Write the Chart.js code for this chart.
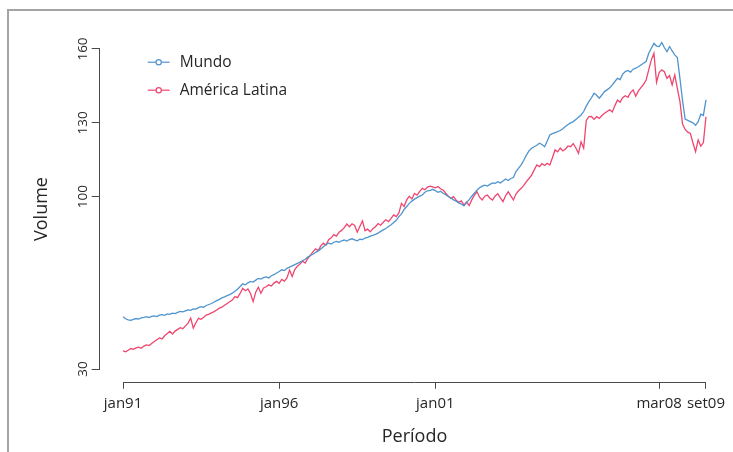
<!DOCTYPE html>
<html>
<head>
<meta charset="utf-8">
<title>Volume — Mundo e América Latina</title>
<script src="https://cdn.jsdelivr.net/npm/chart.js@4.4.1/dist/chart.umd.min.js"></script>
<style>
  html, body { margin: 0; padding: 0; background: #fff; }
  #wrap { position: relative; width: 733px; height: 452px; overflow: hidden; }
  #frame { position: absolute; left: 7px; top: 9px; right: -4px; bottom: -4px;
           border-top: 2px solid #a4a4a4; border-left: 2px solid #a4a4a4; }
  #c { position: absolute; left: 0; top: 0; }
</style>
</head>
<body>
<div id="wrap">
  <div id="frame"></div>
  <canvas id="c" width="733" height="452"></canvas>
</div>
<script>
// Monthly index, jan/1991 (0) to set/2009 (224)
const seriesNames = ['Mundo', 'América Latina'];

const mundo = [
  // 1991
  51.2, 50.4, 50.0, 49.8, 50.2, 50.5, 50.3, 50.8, 51.0, 51.3, 50.9, 51.4,
  // 1992
  51.6, 51.3, 51.9, 52.1, 51.8, 52.4, 52.2, 52.7, 52.5, 53.0, 53.4, 53.2,
  // 1993
  53.6, 54.0, 53.8, 54.4, 54.3, 54.9, 55.3, 55.1, 55.8, 56.2, 56.6, 57.2,
  // 1994
  57.8, 58.3, 58.9, 59.3, 59.8, 60.2, 60.8, 61.6, 62.4, 63.5, 64.6, 64.2,
  // 1995
  65.0, 65.6, 65.3, 66.1, 66.8, 66.5, 67.1, 67.4, 67.0, 67.9, 68.3, 69.0,
  // 1996
  69.6, 70.3, 70.0, 70.9, 71.4, 71.9, 72.4, 72.9, 73.4, 74.0, 74.6, 75.5,
  // 1997
  76.1, 76.6, 77.4, 78.0, 78.8, 79.7, 80.6, 81.1, 80.8, 81.5, 81.8, 81.5,
  // 1998
  82.1, 82.4, 82.0, 82.6, 82.9, 82.5, 82.1, 82.7, 82.6, 83.2, 83.5, 84.0,
  // 1999
  84.3, 84.7, 85.2, 85.9, 86.5, 87.1, 87.9, 88.6, 89.5, 90.4, 91.9, 93.0,
  // 2000
  94.8, 96.0, 97.3, 98.2, 99.0, 99.6, 100.2, 100.7, 101.8, 102.4, 102.6, 103.0,
  // 2001
  102.5, 101.8, 102.2, 101.4, 100.8, 100.1, 99.5, 98.7, 98.2, 97.5, 97.0, 96.3,
  // 2002
  97.6, 98.8, 100.2, 101.4, 102.6, 103.6, 104.3, 104.7, 104.3, 105.0, 105.6, 105.4,
  // 2003
  106.1, 105.6, 106.4, 107.2, 106.6, 107.4, 107.8, 110.2, 111.6, 112.9, 114.8, 116.9,
  // 2004
  118.6, 119.7, 120.3, 120.9, 121.7, 121.2, 120.3, 122.6, 125.1, 125.6, 126.0, 126.4,
  // 2005
  126.9, 127.6, 128.5, 129.3, 130.0, 130.5, 131.4, 132.3, 133.2, 134.6, 136.8, 138.6,
  // 2006
  140.2, 142.0, 141.2, 140.0, 141.3, 142.7, 143.4, 144.2, 145.4, 146.8, 148.1, 147.6,
  // 2007
  149.8, 150.8, 151.3, 150.6, 151.8, 152.2, 152.8, 153.5, 154.2, 154.9, 158.3, 160.3,
  // 2008
  162.3, 161.2, 161.0, 162.6, 160.6, 158.9, 161.0, 159.2, 157.6, 156.5, 148.0, 139.0,
  // 2009
  131.5, 131.0, 130.5, 130.0, 129.0, 130.5, 133.5, 133.0, 139.3
];

const americaLatina = [
  // 1991
  37.4, 37.0, 37.6, 38.3, 38.0, 38.6, 38.9, 38.4, 39.3, 39.8, 39.5, 40.4,
  // 1992
  41.2, 41.9, 42.6, 42.2, 43.5, 44.4, 45.3, 44.2, 45.4, 46.1, 46.8, 46.4,
  // 1993
  47.5, 48.6, 50.7, 46.6, 48.8, 50.6, 50.2, 51.0, 51.9, 52.3, 52.8, 53.3,
  // 1994
  54.0, 54.7, 55.1, 55.9, 56.6, 57.3, 58.0, 59.4, 59.0, 60.7, 62.8, 61.8,
  // 1995
  62.5, 60.6, 57.4, 61.2, 63.2, 60.8, 62.9, 63.4, 64.2, 63.7, 64.9, 65.6,
  // 1996
  64.8, 66.4, 65.7, 67.0, 70.2, 67.6, 70.4, 71.8, 72.6, 73.8, 73.0, 74.9,
  // 1997
  76.2, 77.7, 78.8, 78.1, 80.0, 81.1, 80.4, 82.5, 83.3, 84.6, 84.0, 85.6,
  // 1998
  86.3, 87.4, 88.9, 87.8, 89.0, 88.3, 85.6, 87.9, 90.2, 86.2, 86.8, 85.7,
  // 1999
  87.0, 87.8, 89.1, 88.4, 89.6, 90.6, 89.9, 91.2, 92.6, 91.9, 93.4, 97.3,
  // 2000
  96.0, 98.7, 100.2, 99.1, 101.3, 100.6, 102.2, 103.4, 102.8, 103.9, 104.3, 104.0,
  // 2001
  103.6, 104.1, 103.2, 102.7, 101.4, 100.2, 99.3, 100.0, 98.6, 97.7, 98.3, 96.6,
  // 2002
  97.8, 96.4, 98.7, 100.6, 102.0, 99.8, 98.7, 100.2, 100.7, 99.4, 98.6, 100.3,
  // 2003
  101.2, 99.5, 98.0, 100.4, 102.0, 100.3, 98.7, 101.1, 102.4, 103.4, 104.6, 106.1,
  // 2004
  107.4, 108.8, 110.9, 112.9, 112.2, 113.4, 112.7, 113.6, 112.9, 115.8, 119.0, 118.2,
  // 2005
  119.8, 118.6, 119.4, 120.6, 120.3, 121.6, 119.8, 117.6, 122.3, 119.7, 131.0, 132.5,
  // 2006
  132.6, 131.4, 132.5, 131.8, 133.0, 133.9, 134.6, 135.3, 134.4, 137.0, 139.3, 138.4,
  // 2007
  140.2, 141.0, 140.4, 142.3, 143.4, 140.8, 142.9, 144.3, 145.6, 147.4, 151.5, 155.6,
  // 2008
  158.3, 146.5, 150.4, 151.5, 150.8, 148.1, 149.2, 145.4, 149.5, 144.0, 138.6, 129.5,
  // 2009
  127.3, 126.2, 125.7, 121.8, 118.3, 123.1, 120.5, 122.0, 132.5
];

// Axis ticks
const xTickMonths = [0, 60, 120, 206, 224];
const xTickLabels = ['jan91', 'jan96', 'jan01', 'mar08', 'set09'];
const yTickValues = [30, 100, 130, 160];

const FONT = '"Open Sans", "Noto Sans", sans-serif';
const TEXT = '#262626';
const AXIS = '#4a4a4a';
const COLORS = ['#4F94CD', '#EF4670'];

const toPoints = arr => arr.map((v, i) => ({ x: i, y: v }));

// Axis lines span first to last tick; y tick labels are drawn rotated
const axesPlugin = {
  id: 'segmentAxes',
  afterDraw(chart) {
    const { ctx, chartArea } = chart;
    const xs = chart.scales.x, ys = chart.scales.y;
    ctx.save();
    ctx.strokeStyle = AXIS;
    ctx.lineWidth = 1;
    const yb = Math.round(chartArea.bottom) + 0.5;
    const xl = Math.round(chartArea.left) - 0.5;
    ctx.beginPath();
    ctx.moveTo(xs.getPixelForValue(xTickMonths[0]), yb);
    ctx.lineTo(xs.getPixelForValue(xTickMonths[xTickMonths.length - 1]), yb);
    ctx.moveTo(xl, ys.getPixelForValue(yTickValues[0]));
    ctx.lineTo(xl, ys.getPixelForValue(yTickValues[yTickValues.length - 1]));
    ctx.stroke();

    ctx.fillStyle = TEXT;
    ctx.font = '13.5px ' + FONT;
    ctx.textAlign = 'center';
    ctx.textBaseline = 'middle';
    ys.ticks.forEach(t => {
      const py = ys.getPixelForValue(t.value);
      ctx.save();
      ctx.translate(chartArea.left - 17, py);
      ctx.rotate(-Math.PI / 2);
      ctx.fillText(String(t.value), 0, 0);
      ctx.restore();
    });
    ctx.restore();
  }
};

// Line-and-circle key in the upper left of the plot
const keyPlugin = {
  id: 'lineKey',
  afterDraw(chart) {
    const { ctx, chartArea } = chart;
    ctx.save();
    ctx.font = '15.5px ' + FONT;
    ctx.textBaseline = 'middle';
    ctx.textAlign = 'left';
    chart.data.datasets.forEach((ds, i) => {
      const y = chartArea.top + 26 + i * 28;
      const x0 = chartArea.left + 48;
      ctx.strokeStyle = ds.borderColor;
      ctx.lineWidth = 1.2;
      ctx.beginPath();
      ctx.moveTo(x0, y);
      ctx.lineTo(x0 + 22, y);
      ctx.stroke();
      ctx.beginPath();
      ctx.arc(x0 + 11, y, 2.6, 0, Math.PI * 2);
      ctx.fillStyle = '#fff';
      ctx.fill();
      ctx.stroke();
      ctx.fillStyle = TEXT;
      ctx.fillText(ds.label, x0 + 32, y);
    });
    ctx.restore();
  }
};

new Chart(document.getElementById('c'), {
  type: 'line',
  data: {
    datasets: [
      { label: seriesNames[0], data: toPoints(mundo), borderColor: COLORS[0] },
      { label: seriesNames[1], data: toPoints(americaLatina), borderColor: COLORS[1] }
    ]
  },
  options: {
    responsive: false,
    animation: false,
    events: [],
    layout: { padding: { left: 0, top: 36.2, right: 3.7, bottom: 0 } },
    elements: {
      line: { borderWidth: 1.3, tension: 0, fill: false },
      point: { radius: 0 }
    },
    plugins: { legend: { display: false }, tooltip: { enabled: false } },
    scales: {
      x: {
        type: 'linear',
        min: -8.96,
        max: 232.96,
        afterFit: s => { s.height = 70.2; },
        afterBuildTicks: s => { s.ticks = xTickMonths.map(v => ({ value: v })); },
        border: { display: false },
        grid: { drawOnChartArea: false, drawTicks: true, tickLength: 7, color: AXIS, lineWidth: 1 },
        ticks: {
          autoSkip: false, maxRotation: 0, padding: 6.4, color: TEXT,
          font: { family: FONT, size: 15 },
          callback: v => xTickLabels[xTickMonths.indexOf(v)]
        },
        title: {
          display: true, text: 'Período', color: TEXT,
          font: { family: FONT, size: 18 }, padding: { top: 0, bottom: 4 }
        }
      },
      y: {
        type: 'linear',
        min: 24.8,
        max: 165.2,
        afterFit: s => { s.width = 99.7; },
        afterBuildTicks: s => { s.ticks = yTickValues.map(v => ({ value: v })); },
        border: { display: false },
        grid: { drawOnChartArea: false, drawTicks: true, tickLength: 8, color: AXIS, lineWidth: 1 },
        ticks: { display: false },
        title: {
          display: true, text: 'Volume', color: TEXT,
          font: { family: FONT, size: 18 }, padding: { top: 31, bottom: 0 }
        }
      }
    }
  },
  plugins: [axesPlugin, keyPlugin]
});
</script>
</body>
</html>
